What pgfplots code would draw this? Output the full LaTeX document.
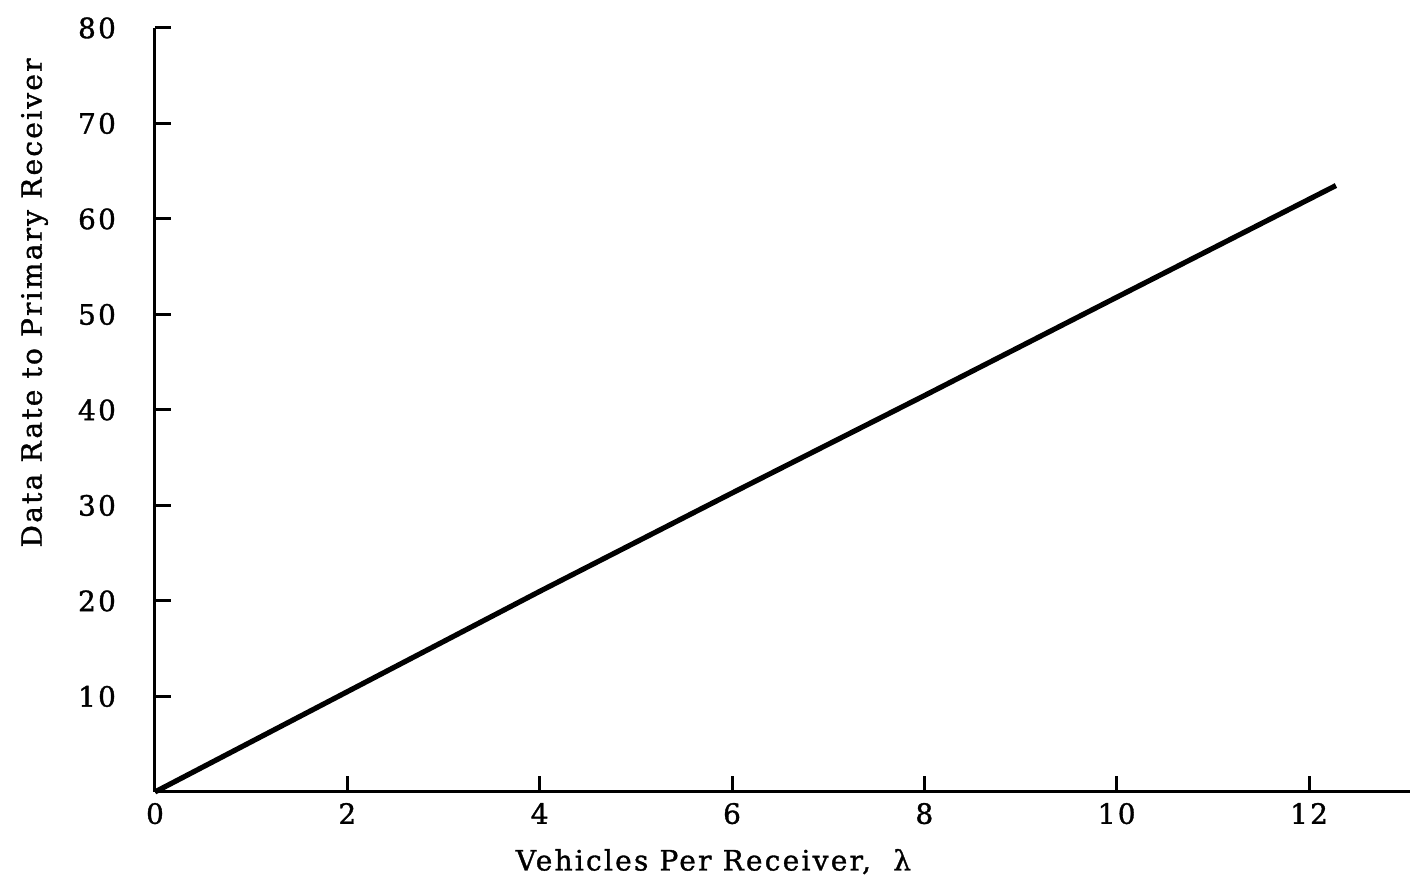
\documentclass[border=0pt]{standalone}
\usepackage{pgfplots}
\pgfplotsset{compat=1.18}
\usepackage{fontspec}
\setmainfont{DejaVu Serif}
\newfontfamily\lsfont[LetterSpace=8,FakeBold=1.2]{DejaVu Serif}
\begin{document}
\begin{tikzpicture}
\begin{axis}[
  scale only axis,
  width=627.5pt, height=382pt,
  xmin=0, xmax=13.05, ymin=0, ymax=80,
  axis lines=left,
  axis line style={-, line width=1.5pt},
  tick align=inside,
  major tick length=8pt,
  tick style={line width=1.5pt, black},
  xtick={0,2,4,6,8,10,12},
  ytick={10,20,30,40,50,60,70,80},
  /pgf/number format/assume math mode=true,
  ticklabel style={font=\lsfont\fontsize{14}{16}\selectfont},
  yticklabel style={xshift=-16pt},
  xticklabel style={yshift=-2pt},
  xlabel={Vehicles Per Receiver,\ \ λ},
  ylabel={Data Rate to Primary Receiver},
  label style={font=\lsfont\fontsize{14}{16}\selectfont},
  xlabel style={at={(rel axis cs:0.445,0)}, anchor=north, yshift=-25pt},
  ylabel style={at={(rel axis cs:0,0.64)}, anchor=south, yshift=50pt},
  clip=false,
]
\addplot[black, line width=2.6pt] coordinates {
 (0,0) (2,10.5) (4,21.0) (6,31.3) (8,41.5) (10,51.8) (12.28,63.5)
};
\path[draw=none] (rel axis cs:-0.1235,-0.1139) rectangle (rel axis cs:1.0016,1.0366);
\end{axis}
\end{tikzpicture}
\end{document}
